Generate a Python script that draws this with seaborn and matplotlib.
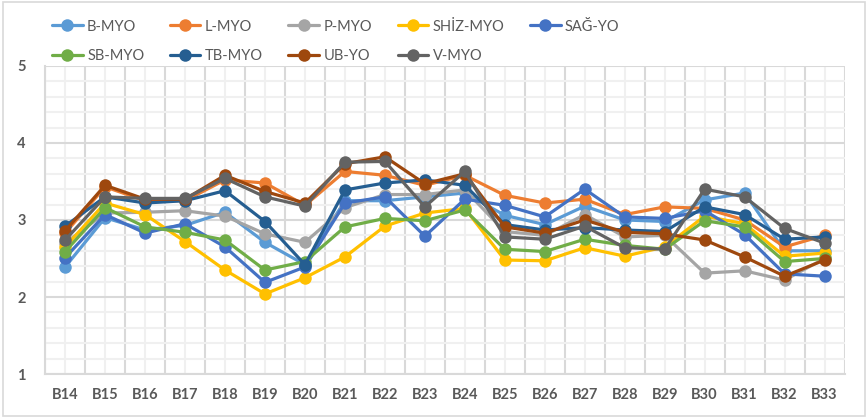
import pandas as pd
import numpy as np
import matplotlib
matplotlib.use("Agg")
import matplotlib.pyplot as plt
import seaborn as sns
from matplotlib.ticker import MultipleLocator, FixedLocator
from matplotlib.patches import Rectangle

# Data
categories = ['B14', 'B15', 'B16', 'B17', 'B18', 'B19', 'B20', 'B21', 'B22', 'B23',
              'B24', 'B25', 'B26', 'B27', 'B28', 'B29', 'B30', 'B31', 'B32', 'B33']

b_myo    = [2.39, 3.03, 2.87, 2.93, 3.10, 2.71, 2.42, 3.25, 3.25, 3.30, 3.35, 3.06, 2.94, 3.18, 3.00, 2.98, 3.26, 3.35, 2.60, 2.60]
l_myo    = [2.83, 3.43, 3.25, 3.25, 3.52, 3.48, 3.19, 3.63, 3.58, 3.45, 3.58, 3.32, 3.22, 3.27, 3.07, 3.17, 3.15, 3.00, 2.65, 2.80]
p_myo    = [2.70, 3.09, 3.10, 3.12, 3.05, 2.82, 2.71, 3.16, 3.33, 3.33, 3.39, 2.85, 2.80, 3.07, 2.78, 2.80, 2.31, 2.34, 2.22, 2.50]
shiz_myo = [2.65, 3.22, 3.07, 2.72, 2.35, 2.04, 2.25, 2.52, 2.92, 3.09, 3.15, 2.48, 2.47, 2.64, 2.53, 2.65, 3.05, 2.95, 2.53, 2.57]
sag_yo   = [2.51, 3.07, 2.83, 2.95, 2.65, 2.19, 2.39, 3.22, 3.30, 2.79, 3.27, 3.19, 3.04, 3.40, 3.04, 3.02, 3.12, 2.81, 2.30, 2.27]
sb_myo   = [2.59, 3.16, 2.91, 2.84, 2.74, 2.35, 2.46, 2.91, 3.02, 2.99, 3.13, 2.62, 2.59, 2.75, 2.67, 2.62, 2.99, 2.91, 2.46, 2.50]
tb_myo   = [2.92, 3.30, 3.22, 3.25, 3.38, 2.98, 2.42, 3.39, 3.48, 3.52, 3.45, 2.94, 2.87, 2.90, 2.87, 2.85, 3.17, 3.07, 2.75, 2.78]
ub_yo    = [2.86, 3.45, 3.27, 3.27, 3.58, 3.37, 3.22, 3.73, 3.82, 3.47, 3.60, 2.91, 2.83, 3.00, 2.84, 2.82, 2.74, 2.52, 2.27, 2.48]
v_myo    = [2.74, 3.30, 3.28, 3.28, 3.54, 3.30, 3.18, 3.75, 3.76, 3.17, 3.63, 2.78, 2.75, 2.92, 2.64, 2.62, 3.40, 3.30, 2.89, 2.70]

series_names = ['B-MYO', 'L-MYO', 'P-MYO', 'SHİZ-MYO', 'SAĞ-YO', 'SB-MYO', 'TB-MYO', 'UB-YO', 'V-MYO']
series_values = [b_myo, l_myo, p_myo, shiz_myo, sag_yo, sb_myo, tb_myo, ub_yo, v_myo]
colors = ['#5B9BD5', '#ED7D31', '#A5A5A5', '#FFC000', '#4472C4',
          '#70AD47', '#255E91', '#9E480E', '#636363']

rows = []
for name, vals in zip(series_names, series_values):
    for cat, v in zip(categories, vals):
        rows.append({'Kategori': cat, 'Puan': v, 'Birim': name})
df = pd.DataFrame(rows)

sns.set_style("white")
plt.rcParams['font.family'] = ['Lato', 'DejaVu Sans']

fig = plt.figure(figsize=(8.68, 4.17), dpi=100)
ax = fig.add_axes([0.052, 0.103, 0.921, 0.739])

sns.lineplot(data=df, x='Kategori', y='Puan', hue='Birim', hue_order=series_names,
             palette=colors, marker='o', markersize=9, markeredgewidth=0,
             linewidth=2.3, sort=False, ax=ax)

ax.set_xlim(-0.5, len(categories) - 0.5)
ax.set_ylim(1, 5)
ax.yaxis.set_major_locator(MultipleLocator(1))
ax.yaxis.set_minor_locator(MultipleLocator(0.2))
ax.xaxis.set_major_locator(FixedLocator(np.arange(len(categories))))
ax.xaxis.set_minor_locator(FixedLocator(np.arange(-0.5, len(categories), 1.0)))
ax.set_xticks(np.arange(len(categories)))
ax.set_xticklabels(categories)

# grid: minor lines lighter, category boundaries darker
ax.grid(False)
ax.grid(which='minor', axis='y', color='#F0F0F0', linewidth=1.5)
ax.grid(which='major', axis='y', color='#D9D9D9', linewidth=1.5)
ax.grid(which='major', axis='x', color='#F0F0F0', linewidth=1.5)
ax.grid(which='minor', axis='x', color='#D9D9D9', linewidth=1.5)
ax.set_axisbelow(True)

for s in ['top', 'right']:
    ax.spines[s].set_visible(False)
ax.spines['left'].set_color('#D9D9D9')
ax.spines['bottom'].set_color('#D9D9D9')
ax.spines['left'].set_linewidth(1.5)
ax.spines['bottom'].set_linewidth(1.5)

ax.tick_params(axis='both', which='both', length=0, colors='#595959', labelsize=10.5)
ax.tick_params(axis='x', pad=10)
ax.tick_params(axis='y', pad=14)
for lab in ax.get_xticklabels() + ax.get_yticklabels():
    lab.set_fontweight('bold')
ax.set_xlabel('')
ax.set_ylabel('')

# legend: two rows, row-first order
handles, labels = ax.get_legend_handles_labels()
order = [0, 5, 1, 6, 2, 7, 3, 8, 4]
ax.legend([handles[i] for i in order], [labels[i] for i in order],
          ncol=5, loc='upper left', bbox_to_anchor=(0.06, 0.953),
          bbox_transform=fig.transFigure, frameon=False, fontsize=10.5,
          labelcolor='#595959', handlelength=2.1, handletextpad=0.3,
          columnspacing=1.75, labelspacing=1.05, borderaxespad=0, borderpad=0)

fig.patches.append(Rectangle((0.004, 0.003), 0.992, 0.993, transform=fig.transFigure,
                             fill=False, edgecolor='#D9D9D9', linewidth=1.2))

fig.savefig('out.png', dpi=100, facecolor='white')
